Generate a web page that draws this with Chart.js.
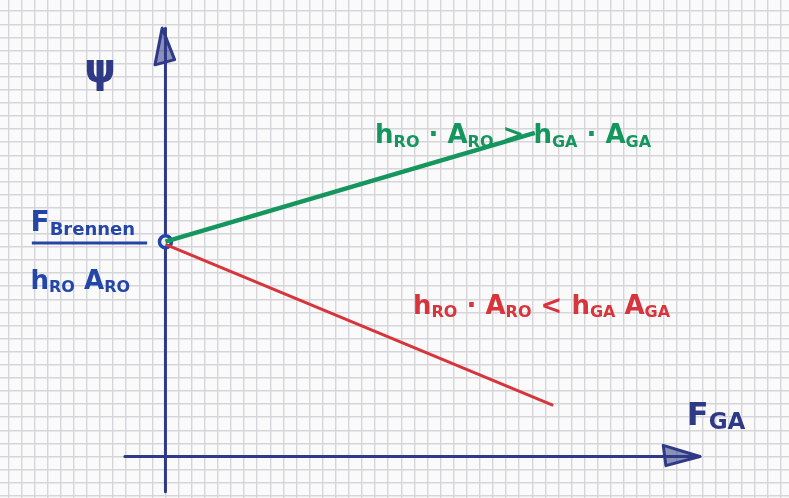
<!DOCTYPE html>
<html>
<head>
<meta charset="utf-8">
<title>psi über F_GA</title>
<script src="https://cdn.jsdelivr.net/npm/chart.js@4/dist/chart.umd.min.js"></script>
<style>
    html, body { margin: 0; padding: 0; background: #fafafa; }
    #wrap { width: 789px; height: 498px; }
</style>
</head>
<body>
<div id="wrap"><canvas id="chart" width="789" height="498"></canvas></div>
<script>
// Werte in Kästchen (1 Einheit = 1 Kästchen)
const startPoint = [{ x: 0, y: 16.4 }];
const greenLine = [{ x: 0, y: 16.4 }, { x: 28.2, y: 24.7 }];   // h_RO·A_RO > h_GA·A_GA
const redLine = [{ x: 0, y: 16.2 }, { x: 29.6, y: 3.9 }];      // h_RO·A_RO < h_GA·A_GA

// Texte: [Grundzeichen, Index]
const greenLabel = [['h', 'RO'], ' · ', ['A', 'RO'], ' > ', ['h', 'GA'], ' · ', ['A', 'GA']];
const redLabel = [['h', 'RO'], ' · ', ['A', 'RO'], ' < ', ['h', 'GA'], ' ', ['A', 'GA']];
const xLabel = [['F', 'GA']];
const yLabel = [['ψ', '']];
const numerator = [['F', 'Brennen']];
const denominator = [['h', 'RO'], ' ', ['A', 'RO']];

const GREEN = '#15965e';
const RED = '#d8343c';
const NAVY = '#2f3a86';
const BLUE = '#2346a8';

function drawParts(ctx, parts, x, y, size, color, subScale = 0.62) {
    ctx.save();
    ctx.fillStyle = color;
    ctx.textBaseline = 'alphabetic';
    let cx = x;
    parts.forEach(p => {
        const base = typeof p === 'string' ? p : p[0];
        const sub = typeof p === 'string' ? '' : p[1];
        ctx.font = `bold ${size}px "DejaVu Sans"`;
        ctx.fillText(base, cx, y);
        cx += ctx.measureText(base).width;
        if (sub) {
            ctx.font = `bold ${Math.round(size * subScale)}px "DejaVu Sans"`;
            ctx.fillText(sub, cx, y + size * 0.12);
            cx += ctx.measureText(sub).width;
        }
    });
    ctx.restore();
    return cx - x;
}

const sketchPlugin = {
    id: 'sketch',
    beforeDatasetsDraw(chart) {
        const { ctx, scales: { x, y } } = chart;
        ctx.save();
        ctx.strokeStyle = NAVY;
        ctx.lineCap = 'round';
        ctx.lineWidth = 3;
        // Achsen
        ctx.beginPath();
        ctx.moveTo(x.getPixelForValue(0), y.getPixelForValue(-2.7));
        ctx.lineTo(x.getPixelForValue(0), y.getPixelForValue(32.7));
        ctx.moveTo(x.getPixelForValue(-3.1), y.getPixelForValue(0));
        ctx.lineTo(x.getPixelForValue(40.8), y.getPixelForValue(0));
        ctx.stroke();
        // Pfeilspitzen
        ctx.lineJoin = 'round';
        ctx.fillStyle = 'rgba(47,58,134,0.55)';
        ctx.beginPath();
        ctx.moveTo(x.getPixelForValue(-0.25), y.getPixelForValue(32.7));
        ctx.lineTo(x.getPixelForValue(-0.8), y.getPixelForValue(29.9));
        ctx.lineTo(x.getPixelForValue(0.7), y.getPixelForValue(30.3));
        ctx.closePath();
        ctx.fill();
        ctx.stroke();
        ctx.beginPath();
        ctx.moveTo(x.getPixelForValue(40.8), y.getPixelForValue(0));
        ctx.lineTo(x.getPixelForValue(38.0), y.getPixelForValue(0.85));
        ctx.lineTo(x.getPixelForValue(38.2), y.getPixelForValue(-0.7));
        ctx.closePath();
        ctx.fill();
        ctx.stroke();
        ctx.restore();
    },
    afterDatasetsDraw(chart) {
        const { ctx, scales: { x, y } } = chart;
        drawParts(ctx, yLabel, x.getPixelForValue(-6.2), y.getPixelForValue(28.6), 40, NAVY);
        drawParts(ctx, xLabel, x.getPixelForValue(39.8), y.getPixelForValue(2.4), 32, NAVY, 0.72);
        drawParts(ctx, greenLabel, x.getPixelForValue(16.0), y.getPixelForValue(23.9), 26, GREEN);
        drawParts(ctx, redLabel, x.getPixelForValue(18.9), y.getPixelForValue(10.9), 26, RED);
        // Bruch am Startwert
        drawParts(ctx, numerator, x.getPixelForValue(-10.3), y.getPixelForValue(17.2), 28, BLUE, 0.66);
        drawParts(ctx, denominator, x.getPixelForValue(-10.3), y.getPixelForValue(12.8), 26, BLUE);
        ctx.save();
        ctx.strokeStyle = BLUE;
        ctx.lineWidth = 3;
        ctx.beginPath();
        ctx.moveTo(x.getPixelForValue(-10.2), y.getPixelForValue(16.3));
        ctx.lineTo(x.getPixelForValue(-1.4), y.getPixelForValue(16.3));
        ctx.stroke();
        ctx.restore();
    }
};

const gridColor = '#d5d5da';

new Chart(document.getElementById('chart'), {
    type: 'scatter',
    data: {
        datasets: [
            { data: greenLine, showLine: true, borderColor: GREEN, borderWidth: 4.5, pointRadius: 0 },
            { data: redLine, showLine: true, borderColor: RED, borderWidth: 3, pointRadius: 0 },
            { data: startPoint, pointRadius: 6, pointBorderWidth: 3.5, borderColor: BLUE, backgroundColor: '#eef1fa' }
        ]
    },
    options: {
        responsive: false,
        animation: false,
        layout: { padding: 0, autoPadding: false },
        plugins: { legend: { display: false }, tooltip: { enabled: false } },
        scales: {
            x: {
                type: 'linear', min: -12.63, max: 47.6,
                ticks: { display: false, stepSize: 1, includeBounds: false },
                grid: { color: gridColor, lineWidth: 1.4, drawTicks: false },
                border: { display: false },
                afterFit: s => { s.height = 0; }
            },
            y: {
                type: 'linear', min: -3.17, max: 34.85,
                ticks: { display: false, stepSize: 1, includeBounds: false },
                grid: { color: gridColor, lineWidth: 1.4, drawTicks: false },
                border: { display: false },
                afterFit: s => { s.width = 0; }
            }
        }
    },
    plugins: [sketchPlugin]
});
</script>
</body>
</html>
